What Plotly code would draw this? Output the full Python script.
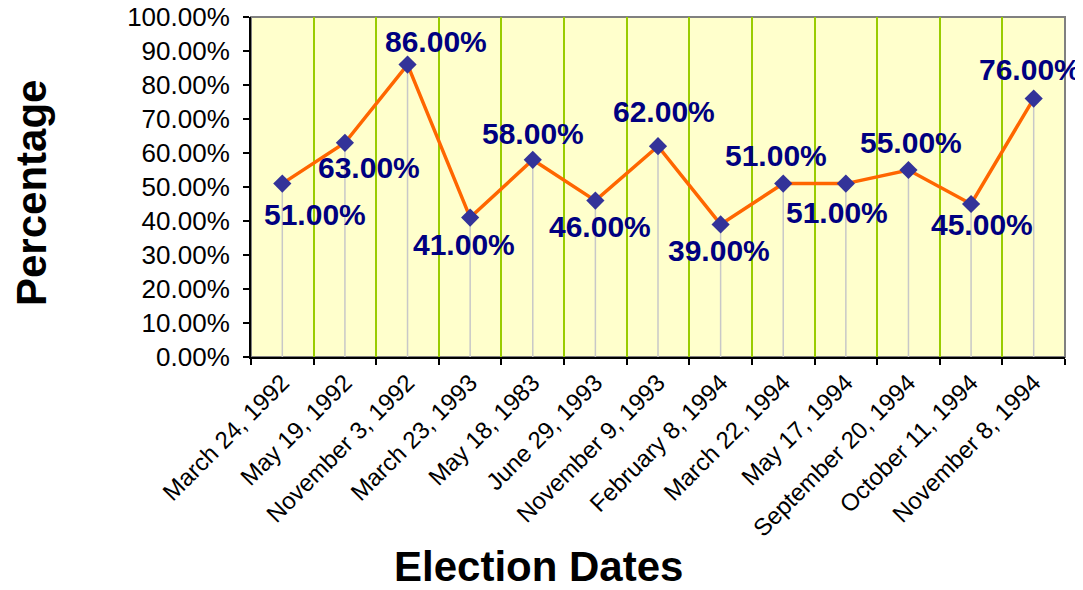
import plotly.graph_objects as go

dates = ["March 24, 1992", "May 19, 1992", "November 3, 1992", "March 23, 1993",
         "May 18, 1983", "June 29, 1993", "November 9, 1993", "February 8, 1994",
         "March 22, 1994", "May 17, 1994", "September 20, 1994", "October 11, 1994",
         "November 8, 1994"]
percent = [0.51, 0.63, 0.86, 0.41, 0.58, 0.46, 0.62, 0.39, 0.51, 0.51, 0.55, 0.45, 0.76]

# label offsets in pixels (x, y up)
label_dx = [33, 24, 28, -6, 0, 5, 6, -2, -7, -9, 3, 11, -4]
label_dy = [-31, -25, 23, -27, 26, -26, 35, -26, 28, -29, 28, -20, 29]

FONT = "Liberation Sans, Arial, sans-serif"

fig = go.Figure()
fig.add_trace(go.Scatter(
    x=dates, y=percent, mode="lines+markers",
    line=dict(color="#FF6600", width=3.5),
    marker=dict(symbol="diamond", size=14, color="#333399",
                line=dict(color="#333399", width=0)),
    error_y=dict(type="data", symmetric=False, array=[0] * len(percent),
                 arrayminus=percent, color="#C8C8C8", thickness=1.5, width=0),
    hoverinfo="x+y",
))

for d, p, dx, dy in zip(dates, percent, label_dx, label_dy):
    fig.add_annotation(x=d, y=p, text=f"{p*100:.2f}%", showarrow=False,
                       xshift=dx, yshift=dy,
                       font=dict(family=FONT, size=30, color="#000080", weight="bold"))

fig.add_annotation(text="Percentage", xref="paper", yref="paper",
                   x=(32 - 251) / 814, y=(357 - 193) / 340, textangle=-90,
                   showarrow=False, xanchor="center", yanchor="middle",
                   font=dict(family=FONT, size=42, color="black", weight="bold"))
fig.add_annotation(text="Election Dates", xref="paper", yref="paper",
                   x=(538 - 251) / 814, y=(357 - 566) / 340,
                   showarrow=False, xanchor="center", yanchor="middle",
                   font=dict(family=FONT, size=42, color="black", weight="bold"))

fig.add_shape(type="rect", xref="paper", yref="paper", x0=0, y0=0, x1=1, y1=1,
              line=dict(color="#808080", width=2), layer="below")

# page body has an 8px margin, so figure is sized/offset to compensate
fig.update_layout(
    width=1075, height=582,
    margin=dict(l=243, r=18, t=9, b=233, autoexpand=False),
    paper_bgcolor="white", plot_bgcolor="#FFFFCC",
    showlegend=False,
    font=dict(family=FONT, color="black"),
    xaxis=dict(type="category", tickson="boundaries", tickangle=-45,
               automargin=False,
               showgrid=True, gridcolor="#99CC00", gridwidth=1.5,
               ticks="outside", ticklen=6, tickcolor="black", tickwidth=1.5,
               showline=True, linecolor="black", linewidth=2,
               tickfont=dict(family=FONT, size=24, color="black"),
               range=[-0.5, 12.5]),
    yaxis=dict(range=[0, 1], dtick=0.1, tickformat=".2%", automargin=False,
               ticklabeloverflow="allow", ticklabelstandoff=8,
               showgrid=False, zeroline=False,
               ticks="outside", ticklen=6, tickcolor="black", tickwidth=1.5,
               showline=True, linecolor="black", linewidth=2,
               tickfont=dict(family=FONT, size=26, color="black")),
)

fig.write_html("out.html")
